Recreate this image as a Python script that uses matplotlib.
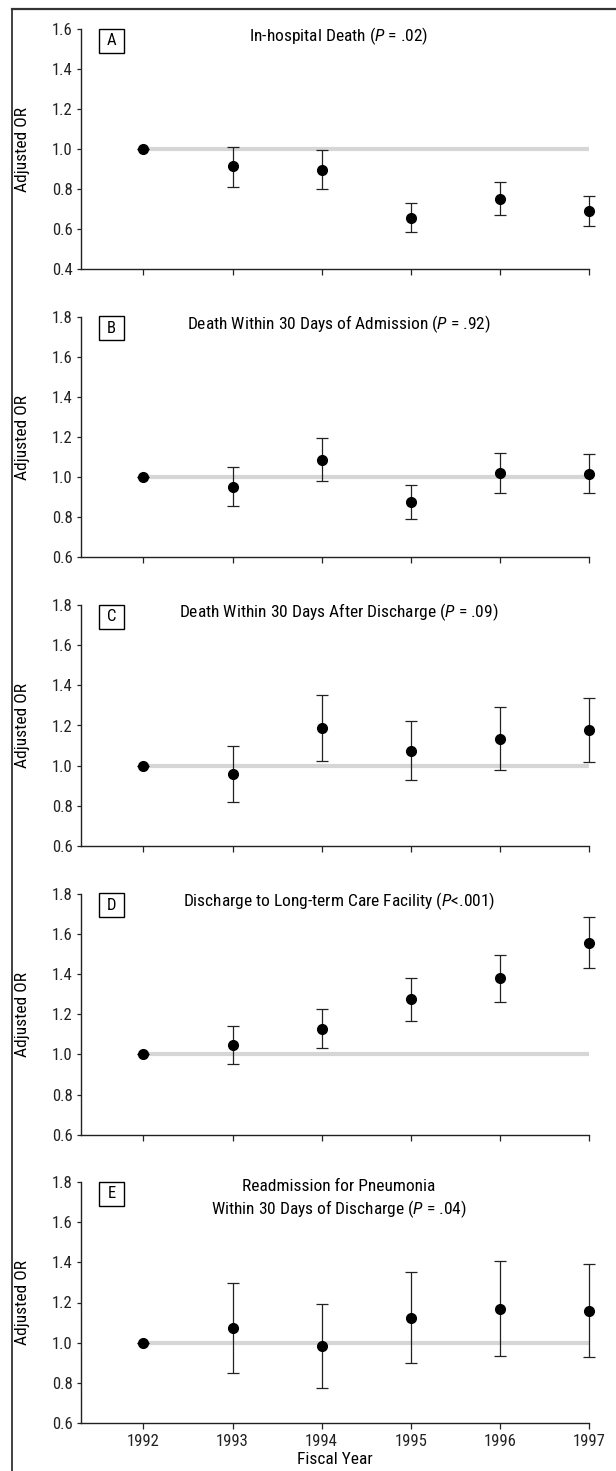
import matplotlib
matplotlib.use("Agg")
import matplotlib.pyplot as plt
from matplotlib.lines import Line2D
from matplotlib.patches import Rectangle
from matplotlib import font_manager as fm

def pick_font(cands):
    for c in cands:
        try:
            fm.findfont(fm.FontProperties(family=c), fallback_to_default=False)
            return c
        except Exception:
            pass
    return 'DejaVu Sans'

base = pick_font(['Liberation Sans Narrow', 'Roboto Condensed', 'Open Sans Condensed',
                  'Liberation Sans', 'Roboto'])
plt.rcParams['font.family'] = [base, 'DejaVu Sans']
plt.rcParams['mathtext.fontset'] = 'custom'
plt.rcParams['mathtext.it'] = base + ':italic'
plt.rcParams['mathtext.rm'] = base

years = [1992, 1993, 1994, 1995, 1996, 1997]

labels = ["A", "B", "C", "D", "E"]
titles = [
    "In-hospital Death ($\\mathit{P}$ = .02)",
    "Death Within 30 Days of Admission ($\\mathit{P}$ = .92)",
    "Death Within 30 Days After Discharge ($\\mathit{P}$ = .09)",
    "Discharge to Long-term Care Facility ($\\mathit{P}$<.001)",
    "Readmission for Pneumonia\nWithin 30 Days of Discharge ($\\mathit{P}$ = .04)",
]

or_a = [1.0, 0.916, 0.898, 0.655, 0.753, 0.691]
lo_a = [1.0, 0.811, 0.800, 0.585, 0.671, 0.615]
hi_a = [1.0, 1.012, 0.994, 0.730, 0.836, 0.768]

or_b = [1.0, 0.952, 1.085, 0.876, 1.020, 1.016]
lo_b = [1.0, 0.856, 0.979, 0.791, 0.919, 0.919]
hi_b = [1.0, 1.050, 1.193, 0.962, 1.122, 1.114]

or_c = [1.0, 0.957, 1.186, 1.075, 1.134, 1.178]
lo_c = [1.0, 0.817, 1.022, 0.927, 0.980, 1.020]
hi_c = [1.0, 1.100, 1.354, 1.224, 1.290, 1.337]

or_d = [1.0, 1.045, 1.128, 1.277, 1.378, 1.556]
lo_d = [1.0, 0.954, 1.033, 1.168, 1.262, 1.428]
hi_d = [1.0, 1.139, 1.224, 1.382, 1.493, 1.682]

or_e = [1.0, 1.074, 0.983, 1.124, 1.169, 1.159]
lo_e = [1.0, 0.850, 0.775, 0.896, 0.931, 0.928]
hi_e = [1.0, 1.299, 1.191, 1.354, 1.407, 1.392]

series = [(or_a, lo_a, hi_a), (or_b, lo_b, hi_b), (or_c, lo_c, hi_c),
          (or_d, lo_d, hi_d), (or_e, lo_e, hi_e)]
ylims = [(0.4, 1.6), (0.6, 1.8), (0.6, 1.8), (0.6, 1.8), (0.6, 1.8)]

W, H = 616, 1471
fig = plt.figure(figsize=(W / 100, H / 100), dpi=100)

panels_px = [(29, 269.3), (316.7, 557.3), (605, 846), (893.7, 1134.7), (1182.3, 1422.7)]
x0, x1 = 81, 589

fig.add_artist(Line2D([12 / W, 12 / W], [0, 1 - 9 / H], transform=fig.transFigure,
                      color='#333333', lw=1.3))
fig.add_artist(Line2D([12 / W, 1], [1 - 9 / H, 1 - 9 / H], transform=fig.transFigure,
                      color='#333333', lw=1.6))

for i, ((top, bot), (vals, lo, hi), lab, ttl, yl) in enumerate(
        zip(panels_px, series, labels, titles, ylims)):
    ax = fig.add_axes([x0 / W, 1 - bot / H, (x1 - x0) / W, (bot - top) / H])
    ax.set_xlim(1991.3, 1997)
    ax.set_ylim(*yl)
    ax.spines['top'].set_visible(False)
    ax.spines['right'].set_visible(False)
    for s in ('left', 'bottom'):
        ax.spines[s].set_linewidth(1.0)
        ax.spines[s].set_color('#222222')
    ax.axhline(1.0, xmin=(1992 - 1991.3) / 5.7, xmax=1.0, color='#d6d6d6', lw=3.0, zorder=1)
    yerr = [[v - l for v, l in zip(vals, lo)], [h - v for v, h in zip(vals, hi)]]
    cont = ax.errorbar(years, vals, yerr=yerr, fmt='o', color='black', ms=7, ecolor='#222222',
                       elinewidth=0.9, capsize=4.6, capthick=0.9, zorder=3)
    for art in cont.get_children():
        art.set_clip_on(False)
    ax.set_yticks([round(yl[0] + 0.2 * k, 1) for k in range(7)])
    ax.set_yticklabels([f"{yl[0] + 0.2 * k:.1f}" for k in range(7)])
    ax.set_xticks(years)
    ax.tick_params(axis='y', direction='out', length=3, width=0.9, pad=3, labelsize=12,
                   colors='#222222')
    ax.tick_params(axis='x', direction='out', length=4, width=0.9, pad=4, labelsize=12,
                   colors='#222222')
    if i < 4:
        ax.set_xticklabels([])
    else:
        ax.set_xticklabels([str(y) for y in years])
        ax.set_xlabel("Fiscal Year", fontsize=12.5, labelpad=2.5)
    ax.set_ylabel("Adjusted OR", fontsize=12.5)
    ax.yaxis.set_label_coords((29.5 - x0) / (x1 - x0), 0.5)
    hpx = bot - top
    bw, bh = 25 / (x1 - x0), 24 / hpx
    bx = (111.5 - x0) / (x1 - x0)
    by = 1 - 11.5 / hpx
    ax.add_patch(Rectangle((bx - bw / 2, by - bh / 2), bw, bh, transform=ax.transAxes,
                           fill=False, ec='black', lw=1.0, clip_on=False))
    ax.text(bx, by, lab, transform=ax.transAxes, ha='center', va='center', fontsize=12)
    tx = (339 - x0) / (x1 - x0)
    if '\n' in ttl:
        ax.text(tx, 1 - 17.5 / hpx, ttl, transform=ax.transAxes, ha='center', va='center',
                fontsize=12.5, linespacing=1.25)
    else:
        ax.text(tx, 1 - 7.5 / hpx, ttl, transform=ax.transAxes, ha='center', va='center',
                fontsize=12.5)

fig.savefig("out.png", dpi=100)
